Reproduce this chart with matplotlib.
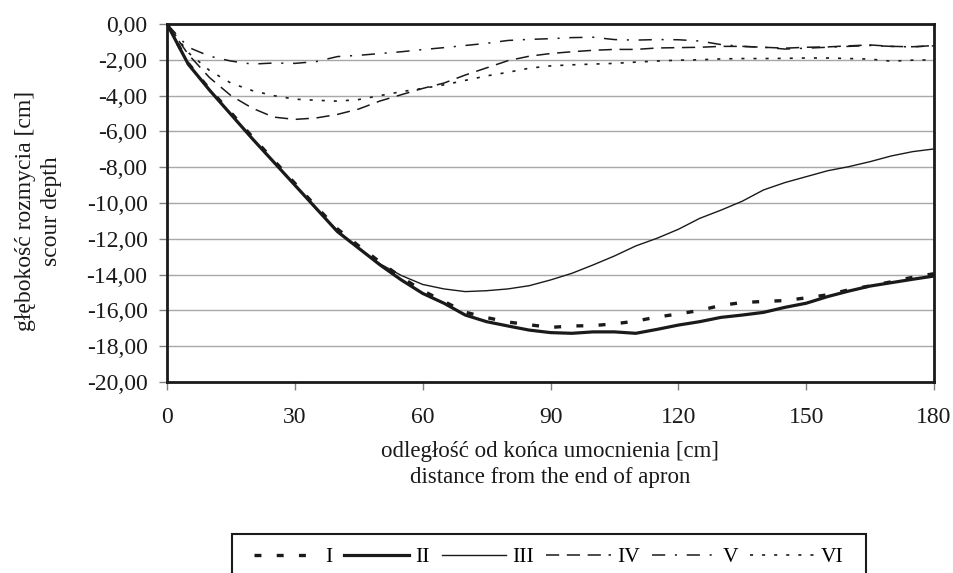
import matplotlib
matplotlib.use("Agg")
import matplotlib.pyplot as plt
from matplotlib.ticker import FuncFormatter, MultipleLocator
from matplotlib.patches import Rectangle

plt.rcParams['font.family'] = ['Liberation Serif', 'DejaVu Serif']
plt.rcParams['lines.scale_dashes'] = False

x = list(range(0, 181, 5))

s_I = [0, -2.2, -3.65, -4.95, -6.3, -7.6, -8.9, -10.2, -11.45, -12.4, -13.3, -14.15,
       -14.9, -15.5, -16.1, -16.4, -16.65, -16.8, -16.95, -16.87, -16.85, -16.75, -16.6,
       -16.37, -16.2, -16.0, -15.72, -15.56, -15.5, -15.45, -15.3, -15.13, -14.85, -14.63,
       -14.4, -14.15, -13.95]
s_II = [0, -2.25, -3.7, -5.05, -6.4, -7.7, -9.0, -10.3, -11.6, -12.53, -13.46, -14.3,
        -15.05, -15.6, -16.26, -16.63, -16.87, -17.1, -17.24, -17.28, -17.2, -17.2, -17.28,
        -17.06, -16.82, -16.63, -16.39, -16.26, -16.11, -15.83, -15.6, -15.23, -14.92,
        -14.64, -14.45, -14.26, -14.08]
s_III = [0, -2.25, -3.7, -5.05, -6.4, -7.7, -9.0, -10.3, -11.55, -12.5, -13.4, -14.05,
         -14.55, -14.8, -14.95, -14.9, -14.8, -14.62, -14.3, -13.93, -13.46, -12.96, -12.4,
         -11.97, -11.47, -10.86, -10.4, -9.9, -9.27, -8.86, -8.53, -8.2, -7.97, -7.69,
         -7.37, -7.13, -6.98]
s_IV = [0, -1.7, -3.0, -4.0, -4.7, -5.2, -5.33, -5.25, -5.05, -4.75, -4.3, -3.95, -3.6,
        -3.3, -2.85, -2.45, -2.05, -1.8, -1.65, -1.55, -1.47, -1.42, -1.42, -1.34, -1.32,
        -1.3, -1.25, -1.25, -1.3, -1.35, -1.3, -1.28, -1.22, -1.17, -1.25, -1.27, -1.22]
s_V = [0, -1.3, -1.8, -2.07, -2.24, -2.18, -2.2, -2.1, -1.82, -1.75, -1.65, -1.55, -1.43,
       -1.32, -1.2, -1.08, -0.92, -0.86, -0.82, -0.76, -0.74, -0.87, -0.9, -0.87, -0.88,
       -0.95, -1.15, -1.25, -1.3, -1.4, -1.35, -1.3, -1.25, -1.2, -1.25, -1.28, -1.2]
s_VI = [0, -1.6, -2.6, -3.3, -3.72, -4.0, -4.2, -4.26, -4.31, -4.22, -4.0, -3.78, -3.6,
        -3.4, -3.15, -2.9, -2.7, -2.47, -2.34, -2.28, -2.24, -2.2, -2.13, -2.07, -2.02,
        -2.0, -1.95, -1.93, -1.93, -1.92, -1.9, -1.9, -1.93, -1.96, -2.08, -2.02, -2.0]

labels = ['I', 'II', 'III', 'IV', 'V', 'VI']
xticks = [0, 30, 60, 90, 120, 150, 180]

fig = plt.figure(figsize=(9.54, 5.73), dpi=100)
W, H = 954, 573
ax = fig.add_axes([167 / W, 1 - 382 / H, (934 - 167) / W, (382 - 24) / H])

col = '#1a1a1a'
styles = [
    dict(lw=2.4, ls=(0, (5, 11)), dash_capstyle='butt'),
    dict(lw=2.3, ls='-'),
    dict(lw=1.0, ls='-'),
    dict(lw=1.1, ls=(0, (9.5, 5.5))),
    dict(lw=1.1, ls=(0, (9.5, 7, 1.5, 7))),
    dict(lw=1.2, ls=(0, (2.2, 6.5))),
]
series = [s_I, s_II, s_III, s_IV, s_V, s_VI]
for s, lab, st in zip(series, labels, styles):
    ax.plot(x, s, color=col, label=lab, solid_joinstyle='miter', **st)

ax.set_xlim(0, 180)
ax.set_ylim(-20, 0)
ax.set_xticks(xticks)
ax.yaxis.set_major_locator(MultipleLocator(2))
ax.yaxis.set_major_formatter(FuncFormatter(lambda v, p: f"{v:.2f}".replace('.', ',').replace('-0,00', '0,00')))
ax.grid(axis='y', color='#a8a8a8', lw=1.0)
ax.set_axisbelow(True)
for sp in ax.spines.values():
    sp.set_color(col)
    sp.set_linewidth(2.0)
ax.tick_params(axis='both', direction='out', length=6, width=1.0, color='#808080',
               labelsize=17, labelcolor=col)
ax.tick_params(axis='y', pad=8)
ax.tick_params(axis='x', pad=12)

fig.text(26 / W, 1 - 211 / H, 'głębokość rozmycia [cm]', rotation=90, ha='center', va='center',
         fontsize=17, color=col)
fig.text(52 / W, 1 - 211 / H, 'scour depth', rotation=90, ha='center', va='center',
         fontsize=17, color=col)
fig.text(550 / W, 1 - 452 / H, 'odległość od końca umocnienia [cm]', ha='center', va='center',
         fontsize=16.5, color=col)
fig.text(550 / W, 1 - 478 / H, 'distance from the end of apron', ha='center', va='center',
         fontsize=16.5, color=col)

leg = fig.legend(loc='center left', bbox_to_anchor=(254 / W, 1 - 557 / H), ncol=6,
                 frameon=False, fontsize=15.5,
                 handlelength=3.0, handletextpad=0.3, columnspacing=0.55,
                 borderpad=0, borderaxespad=0)
fig.canvas.draw()
bb = leg.get_window_extent()
x0 = 232
x1 = bb.x1 + 22
fig.add_artist(Rectangle((x0 / W, -0.05), (x1 - x0) / W, (1 - 534 / H) + 0.05,
                         transform=fig.transFigure, fill=False, edgecolor=col, lw=1.5))

fig.savefig('out.png', dpi=100)
